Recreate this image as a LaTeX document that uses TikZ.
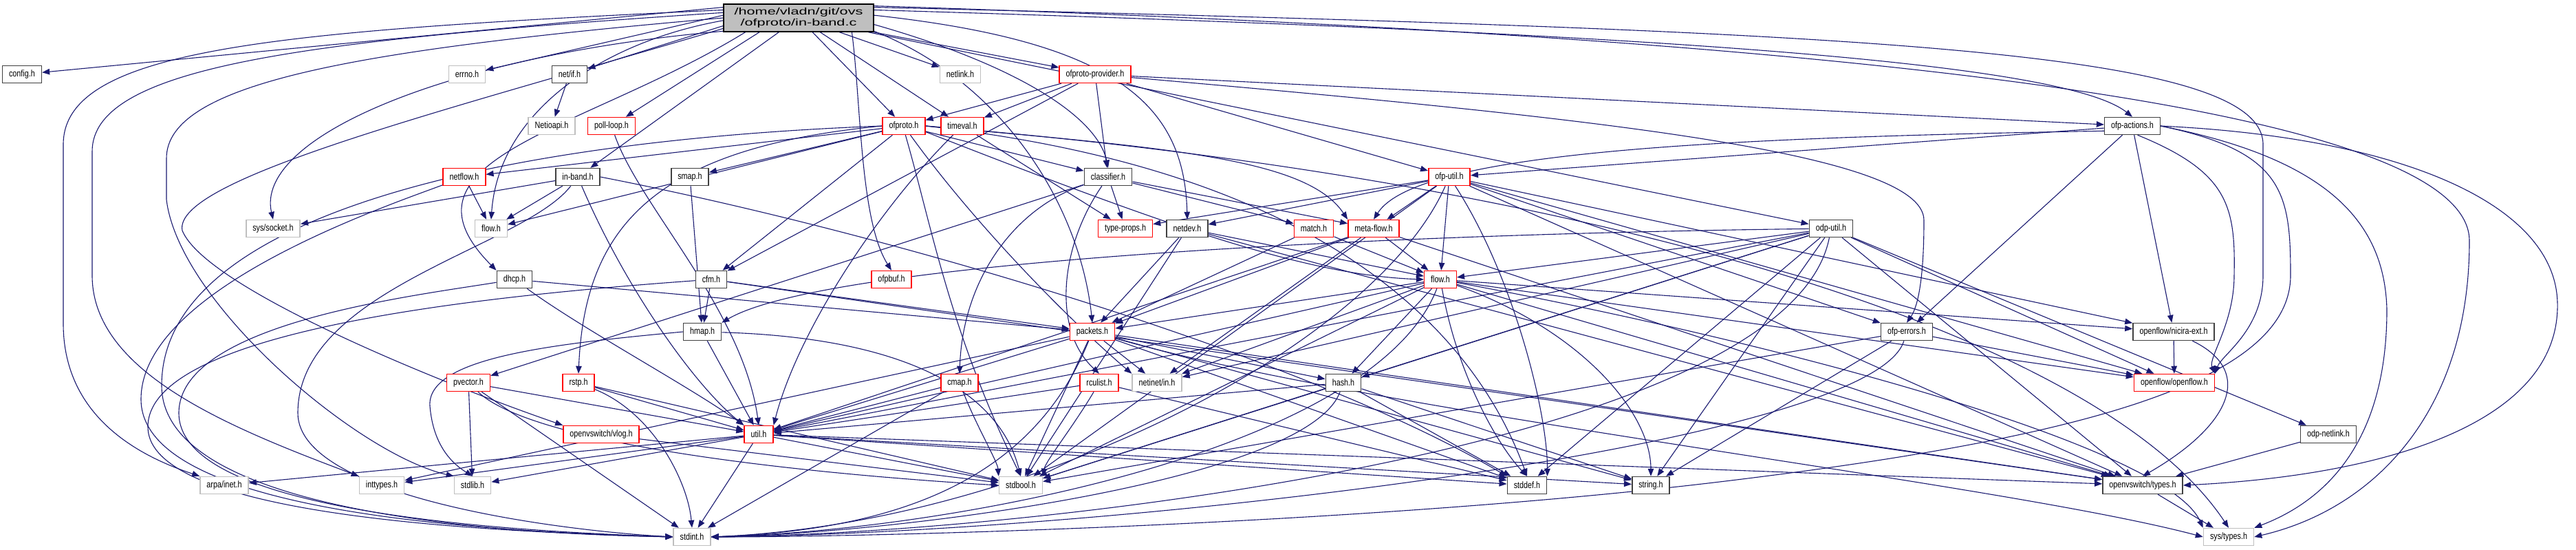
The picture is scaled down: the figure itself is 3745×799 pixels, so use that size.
\documentclass[tikz,border=0pt]{standalone}
\usepackage{fontspec}
\newfontfamily\dxfont[FakeStretch=0.8]{Liberation Sans}
\newfontfamily\dxwide[FakeStretch=1.55]{Liberation Sans}
\usetikzlibrary{arrows.meta}
\pgfdeclarelayer{bg}
\pgfsetlayers{bg,main}
\definecolor{edgec}{HTML}{191970}
\definecolor{grayb}{HTML}{BFBFBF}
\definecolor{blackb}{HTML}{404040}
\definecolor{redb}{HTML}{FF0000}
\begin{document}
\begin{tikzpicture}[x=1pt,y=-1pt,
  base/.style={rectangle, fill=white, line width=1.5pt, minimum height=25pt, inner xsep=9.5pt, inner ysep=0pt, font=\dxfont\fontsize{13.5}{15}\selectfont},
  nb/.style={base, draw=blackb},
  ng/.style={base, draw=grayb},
  nr/.style={base, draw=redb},
  e/.style={draw=edgec, line width=1.1pt, -{Triangle[length=11pt,width=8.5pt]}}]
\useasboundingbox (0,0) rectangle (3745,799);
% ---------------- nodes
\node[base, draw=black, fill=grayb, minimum width=218pt, minimum height=40pt, inner xsep=2pt, align=center, font=\dxwide\fontsize{14}{15.5}\selectfont] (main) at (1161,26) {/home/vladn/git/ovs\\/ofproto/in-band.c};
\node[nb] (config) at (32,108) {config.h};
\node[ng] (errno) at (679,108) {errno.h};
\node[nb] (netif) at (828,108) {net/if.h};
\node[ng] (netlink) at (1396,108) {netlink.h};
\node[nr] (oppr) at (1592,108) {ofproto-provider.h};
\node[ng] (netioapi) at (802,183) {Netioapi.h};
\node[nr] (pollloop) at (889,183) {poll-loop.h};
\node[nr] (ofproto) at (1314,183) {ofproto.h};
\node[nr] (timeval) at (1399,183) {timeval.h};
\node[nb] (ofpact) at (3100,183) {ofp-actions.h};
\node[nr] (netflow) at (675,257) {netflow.h};
\node[nb] (inband) at (840,257) {in-band.h};
\node[nb] (smap) at (1003,257) {smap.h};
\node[nb] (classifier) at (1611,257) {classifier.h};
\node[nr] (ofputil) at (2107,257) {ofp-util.h};
\node[ng] (socket) at (397,332) {sys/socket.h};
\node[ng] (flowg) at (714,332) {flow.h};
\node[nr] (typeprops) at (1636,332) {type-props.h};
\node[nb] (netdev) at (1726,332) {netdev.h};
\node[nr] (match) at (1910,332) {match.h};
\node[nr] (metaflow) at (1997,332) {meta-flow.h};
\node[nb] (odputil) at (2662,332) {odp-util.h};
\node[nb] (dhcp) at (748,406) {dhcp.h};
\node[nb] (cfm) at (1034,406) {cfm.h};
\node[nr] (ofpbuf) at (1296,406) {ofpbuf.h};
\node[nr] (flowr) at (2094,406) {flow.h};
\node[nb] (hmap) at (1021,482) {hmap.h};
\node[nr] (packets) at (1588,482) {packets.h};
\node[nb] (ofperrors) at (2772,482) {ofp-errors.h};
\node[nb] (nicira) at (3160,482) {openflow/nicira-ext.h};
\node[nr] (pvector) at (681,556) {pvector.h};
\node[nr] (rstp) at (841,556) {rstp.h};
\node[nr] (cmap) at (1395,556) {cmap.h};
\node[nr] (rculist) at (1598,556) {rculist.h};
\node[ng] (netinetin) at (1682,556) {netinet/in.h};
\node[nb] (hash) at (1953,556) {hash.h};
\node[nr] (openflow) at (3161,556) {openflow/openflow.h};
\node[nr] (vlog) at (874,631) {openvswitch/vlog.h};
\node[nr] (util) at (1103,631) {util.h};
\node[nb] (odpnetlink) at (3385,631) {odp-netlink.h};
\node[ng] (arpa) at (326,705) {arpa/inet.h};
\node[ng] (inttypes) at (555,705) {inttypes.h};
\node[ng] (stdlib) at (687,705) {stdlib.h};
\node[ng] (stdbool) at (1484,705) {stdbool.h};
\node[nb] (stddef) at (2220,705) {stddef.h};
\node[nb] (string) at (2400,705) {string.h};
\node[nb] (ovstypes) at (3115,705) {openvswitch/types.h};
\node[ng] (stdint) at (1006,780) {stdint.h};
\node[ng] (systypes) at (3240,780) {sys/types.h};
% ---------------- edges
\begin{pgfonlayer}{bg}
% main
\draw[e] (main.172) -- (config);
\draw[e] (main.178) -- (errno);
\draw[e] (main.186) -- (netif);
\draw[e] (main.200) -- (pollloop);
\draw[e] (main) -- (netlink);
\draw[e] (main) -- (oppr);
\draw[e] (main) -- (ofproto);
\draw[e] (main) -- (timeval);
\draw[e] (main) -- (inband);
\draw[e] (main.182) .. controls (880,60) and (725,160) .. (flowg.north);
\draw[e] (main.190) .. controls (650,80) and (370,200) .. (socket.north);
\draw[e] (main.174) .. controls (400,45) and (92,70) .. (92,210) -- (92,470) .. controls (92,610) and (210,665) .. (arpa.north west);
\draw[e] (main.176) .. controls (450,58) and (134,95) .. (134,220) -- (134,400) .. controls (134,540) and (330,620) .. (inttypes.north west);
\draw[e] (main.180) .. controls (520,72) and (242,120) .. (242,230) -- (242,290) .. controls (260,440) and (520,660) .. (stdlib.north west);
\draw[e] (main.195) .. controls (850,190) and (560,230) .. (dhcp.north west);
\draw[e] (main.188) .. controls (650,160) and (250,260) .. (265,335) .. controls (300,420) and (650,560) .. (vlog.north west);
\draw[e] (main.-15) .. controls (1252,150) and (1250,320) .. (ofpbuf.north);
\draw[e] (main.-10) .. controls (1460,120) and (1570,300) .. (packets.north);
\draw[e] (main.-5) .. controls (1480,95) and (1595,170) .. (classifier.north);
\draw[e] (main.2) .. controls (1620,60) and (1722,150) .. (netdev.north);
\draw[e] (main) -- (odputil);
\draw[e] (main.6) .. controls (2400,48) and (3000,90) .. (ofpact.north);
\draw[e] (main.8) .. controls (2700,45) and (3290,70) .. (3290,210) -- (3290,400) .. controls (3290,480) and (3230,515) .. (openflow.north east);
\draw[e] (main.9) .. controls (2900,60) and (3590,180) .. (3590,350) .. controls (3590,600) and (3450,740) .. (systypes.east);
% ofproto-provider
\draw[e] (oppr) -- (ofproto);
\draw[e] (oppr) -- (timeval);
\draw[e] (oppr) -- (classifier);
\draw[e] (oppr) -- (cfm);
\draw[e] (oppr) -- (ofpact);
\draw[e] (oppr) -- (ofputil);
\draw[e] (oppr.-5) .. controls (2300,170) and (2797,220) .. (2797,320) .. controls (2797,420) and (2785,450) .. (ofperrors.north);
% ofproto
\draw[e] (ofproto) -- (netflow);
\draw[e] (ofproto) -- (smap);
\draw[e] (ofproto) -- (cfm);
\draw[e] (ofproto) -- (classifier);
\draw[e] (ofproto) -- (flowg);
\draw[e] (ofproto.west) .. controls (950,215) and (850,330) .. (rstp.north);
\draw[e] (ofproto.east) .. controls (1700,215) and (1900,230) .. (metaflow.north west);
\draw[e] (ofproto.-80) .. controls (1355,330) and (1380,480) .. (stdbool.north);
\draw[e] (ofproto.east) .. controls (1950,250) and (2150,500) .. (stddef.north);
\draw[e] (ofproto.west) .. controls (700,205) and (235,320) .. (235,560) .. controls (235,740) and (700,775) .. (stdint.west);
\draw[e] (ofproto.east) .. controls (2300,260) and (3050,480) .. (systypes.north);
\draw[e] (ofproto) .. controls (1420,330) and (1560,470) .. (netinetin.north west);
\draw[e] (ofproto.-15) .. controls (1700,330) and (1900,400) .. (flowr.west);
% classifier
\draw[e] (classifier) -- (typeprops);
\draw[e] (classifier) -- (match);
\draw[e] (classifier) -- (metaflow);
\draw[e] (classifier) .. controls (1480,300) and (1400,400) .. (cmap.north);
\draw[e] (classifier) -- (pvector);
\draw[e] (classifier) .. controls (1540,360) and (1530,480) .. (rculist.north);
% timeval, poll-loop, net/if
\draw[e] (timeval) -- (typeprops);
\draw[e] (timeval) .. controls (1280,300) and (1160,480) .. (util.north east);
\draw[e] (pollloop) .. controls (930,300) and (1080,450) .. (util.north);
\draw[e] (netif) -- (netioapi);
% netflow
\draw[e] (netflow) -- (flowg);
\draw[e] (netflow) .. controls (560,300) and (205,420) .. (205,580) .. controls (205,745) and (700,772) .. (stdint.west);
% in-band
\draw[e] (inband) -- (socket);
\draw[e] (inband) -- (flowg);
\draw[e] (inband) .. controls (910,420) and (1010,560) .. (util.north west);
\draw[e] (inband.east) .. controls (1300,340) and (1900,520) .. (stddef.north west);
\draw[e] (inband) .. controls (760,360) and (433,420) .. (433,600) .. controls (433,720) and (800,770) .. (stdint.west);
% smap, dhcp, cfm
\draw[e] (smap) -- (hmap);
\draw[e] (dhcp) -- (packets);
\draw[e] (dhcp) .. controls (850,480) and (1000,560) .. (util.north west);
\draw[e] (dhcp) .. controls (600,430) and (260,470) .. (260,600) .. controls (260,740) and (700,770) .. (stdint.west);
\draw[e] (cfm) -- (hmap);
\draw[e] (cfm) -- (packets);
\draw[e] (cfm) -- (ovstypes);
\draw[e] (cfm) .. controls (700,430) and (215,480) .. (215,620) .. controls (215,750) and (700,772) .. (stdint.west);
% hmap
\draw[e] (hmap) -- (util);
\draw[e] (hmap) .. controls (1300,490) and (1450,560) .. (stdbool.north);
\draw[e] (hmap.west) .. controls (800,500) and (620,520) .. (625,590) .. controls (630,650) and (660,675) .. (stdlib.north);
% pvector, rstp, vlog
\draw[e] (pvector) -- (stdlib);
\draw[e] (pvector) -- (util);
\draw[e] (pvector) -- (stdint);
\draw[e] (pvector) .. controls (780,650) and (1200,690) .. (stdbool.west);
\draw[e] (rstp) -- (util);
\draw[e] (rstp) -- (stdbool);
\draw[e] (rstp) .. controls (950,600) and (1000,700) .. (stdint.north);
\draw[e] (vlog) -- (stdbool);
% util
\draw[e] (util) -- (arpa);
\draw[e] (util) -- (inttypes);
\draw[e] (util) -- (stdlib);
\draw[e] (util) -- (stdint);
\draw[e] (util) -- (stdbool);
\draw[e] (util) -- (stddef);
\draw[e] (util) -- (string);
\draw[e] (util) -- (ovstypes);
% cmap, rculist
\draw[e] (cmap) -- (util);
\draw[e] (cmap) .. controls (1420,620) and (1450,670) .. (stdbool.north west);
\draw[e] (cmap) -- (stdint);
\draw[e] (rculist) -- (util);
\draw[e] (rculist) .. controls (1560,620) and (1520,670) .. (stdbool.north east);
\draw[e] (rculist) -- (stddef);
% packets
\draw[e] (packets) -- (inttypes);
\draw[e] (packets) -- (netinetin);
\draw[e] (packets) -- (hash);
\draw[e] (packets) -- (util);
\draw[e] (packets) -- (stdbool);
\draw[e] (packets) -- (stddef);
\draw[e] (packets) -- (string);
\draw[e] (packets) -- (ovstypes);
\draw[e] (packets) .. controls (2000,600) and (2900,700) .. (systypes.west);
\draw[e] (packets) .. controls (1500,700) and (1300,770) .. (stdint.east);
% hash
\draw[e] (hash) -- (util);
\draw[e] (hash) -- (stdbool);
\draw[e] (hash) -- (stddef);
\draw[e] (hash) -- (string);
\draw[e] (hash) .. controls (1900,700) and (1300,775) .. (stdint.east);
% flow.h (red)
\draw[e] (flowr) -- (nicira);
\draw[e] (flowr) -- (openflow);
\draw[e] (flowr) -- (packets);
\draw[e] (flowr) -- (hash);
\draw[e] (flowr) -- (util);
\draw[e] (flowr) -- (stdbool);
\draw[e] (flowr) -- (netinetin);
\draw[e] (flowr) .. controls (2120,550) and (2180,650) .. (stddef.north);
\draw[e] (flowr) .. controls (2300,480) and (2400,600) .. (string.north);
\draw[e] (flowr) -- (ovstypes);
\draw[e] (flowr) .. controls (2600,500) and (3150,650) .. (systypes.north west);
\draw[e] (flowr) .. controls (2000,650) and (1400,770) .. (stdint.east);
% netdev, match, meta-flow
\draw[e] (netdev) -- (flowr);
\draw[e] (netdev) -- (packets);
\draw[e] (netdev) -- (stdbool);
\draw[e] (netdev) -- (ovstypes);
\draw[e] (match) -- (flowr);
\draw[e] (match) -- (packets);
\draw[e] (metaflow) -- (flowr);
\draw[e] (metaflow) -- (packets);
\draw[e] (metaflow) -- (util);
\draw[e] (metaflow) -- (netinetin);
\draw[e] (metaflow) -- (ovstypes);
% ofp-util
\draw[e] (ofputil) -- (typeprops);
\draw[e] (ofputil) -- (metaflow);
\draw[e] (ofputil) -- (flowr);
\draw[e] (ofputil) -- (netdev);
\draw[e] (ofputil) -- (nicira);
\draw[e] (ofputil) -- (openflow);
\draw[e] (ofputil) -- (ofperrors);
\draw[e] (ofputil) -- (ovstypes);
\draw[e] (ofputil) .. controls (2200,400) and (2250,600) .. (stddef.north east);
\draw[e] (ofputil) -- (stdbool);
\draw[e] (ofputil) .. controls (2000,500) and (1500,760) .. (stdint.east);
% odp-util
\draw[e] (odputil) -- (flowr);
\draw[e] (odputil) .. controls (2000,340) and (1200,380) .. (hmap.north east);
\draw[e] (odputil) -- (hash);
\draw[e] (odputil) -- (odpnetlink);
\draw[e] (odputil) -- (openflow);
\draw[e] (odputil) -- (ovstypes);
\draw[e] (odputil) -- (util);
\draw[e] (odputil) -- (stdbool);
\draw[e] (odputil) -- (stddef);
\draw[e] (odputil) -- (string);
\draw[e] (odputil) -- (netinetin);
\draw[e] (odputil) .. controls (2600,650) and (1500,775) .. (stdint.east);
% ofp-actions
\draw[e] (ofpact) -- (ofputil);
\draw[e] (ofpact.190) .. controls (2500,200) and (2060,220) .. (metaflow.north);
\draw[e] (ofpact) -- (ofperrors);
\draw[e] (ofpact) -- (nicira);
\draw[e] (ofpact.-60) .. controls (3240,250) and (3250,300) .. (3248,400) .. controls (3248,470) and (3210,520) .. (openflow.north east);
\draw[e] (ofpact.east) .. controls (3320,220) and (3330,280) .. (3330,400) .. controls (3330,560) and (3000,640) .. (2500,700) .. controls (2000,760) and (1300,780) .. (stdint.east);
\draw[e] (ofpact.east) .. controls (3380,230) and (3467,320) .. (3470,450) .. controls (3470,620) and (3400,720) .. (systypes.north east);
\draw[e] (ofpact.east) .. controls (3500,200) and (3715,300) .. (3718,440) .. controls (3722,610) and (3480,690) .. (ovstypes.east);
% ofp-errors, nicira, odp-netlink, types
\draw[e] (ofperrors) -- (openflow);
\draw[e] (ofperrors) -- (string);
\draw[e] (ofperrors) -- (stdbool);
\draw[e] (ofperrors) .. controls (2720,650) and (1600,775) .. (stdint.east);
\draw[e] (nicira) -- (openflow);
\draw[e] (nicira) .. controls (3280,540) and (3240,620) .. (ovstypes.north);
\draw[e] (odpnetlink) -- (ovstypes);
\draw[e] (ovstypes) -- (systypes);
\end{pgfonlayer}
\end{tikzpicture}
\end{document}
